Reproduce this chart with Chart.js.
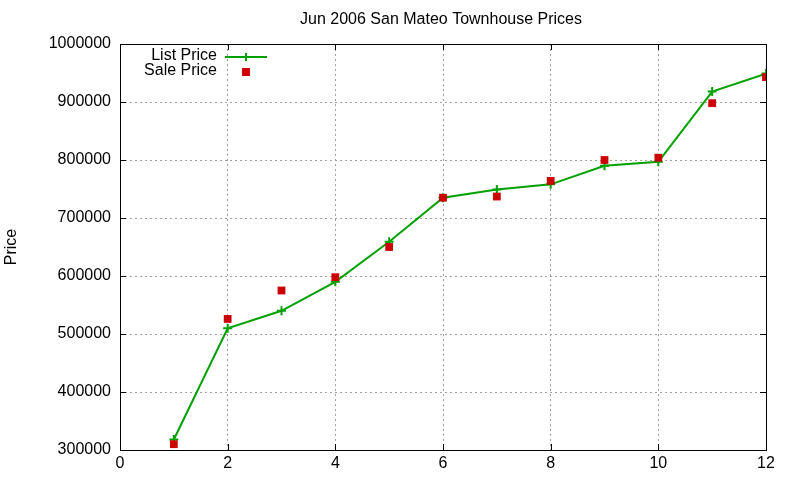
<!DOCTYPE html>
<html>
<head>
<meta charset="utf-8">
<script src="https://cdn.jsdelivr.net/npm/chart.js@4/dist/chart.umd.min.js"></script>
<style>
html,body{margin:0;padding:0;background:#fff;}
#wrap{width:800px;height:480px;position:relative;}
</style>
</head>
<body>
<div id="wrap"><canvas id="c" width="800" height="480"></canvas></div>
<script>
const titleText = "Jun 2006 San Mateo Townhouse Prices";
const yAxisTitle = "Price";
const xValues = [1, 2, 3, 4, 5, 6, 7, 8, 9, 10, 11, 12];
const listPrice = [318000, 510000, 540000, 590000, 659000, 735000, 749000, 758000, 790000, 797000, 918000, 949000];
const salePrice = [310000, 526000, 575000, 598000, 650000, 735000, 737000, 764000, 800000, 804000, 898000, 943000];
const seriesNames = ["List Price", "Sale Price"];
const xTicks = [0, 2, 4, 6, 8, 10, 12];
const yTicks = [300000, 400000, 500000, 600000, 700000, 800000, 900000, 1000000];

const FONT = "'Liberation Sans', Arial, sans-serif";
const GREEN = "#00a000";
const RED = "#cc0000";

const gnuplotDecor = {
  id: 'gnuplotDecor',
  afterDraw(chart) {
    const ctx = chart.ctx;
    const a = chart.chartArea;
    const xs = chart.scales.x, ys = chart.scales.y;
    ctx.save();
    // border
    ctx.strokeStyle = '#000';
    ctx.lineWidth = 1;
    ctx.strokeRect(Math.round(a.left) + 0.5, Math.round(a.top) + 0.5, Math.round(a.right - a.left), Math.round(a.bottom - a.top));
    // inward ticks
    ctx.beginPath();
    xTicks.forEach(v => {
      const px = Math.round(xs.getPixelForValue(v)) + 0.5;
      ctx.moveTo(px, a.bottom); ctx.lineTo(px, a.bottom - 6);
      ctx.moveTo(px, a.top); ctx.lineTo(px, a.top + 6);
    });
    yTicks.forEach(v => {
      const py = Math.round(ys.getPixelForValue(v)) + 0.5;
      ctx.moveTo(a.left, py); ctx.lineTo(a.left + 6, py);
      ctx.moveTo(a.right, py); ctx.lineTo(a.right - 6, py);
    });
    ctx.stroke();
    // title
    ctx.fillStyle = '#000';
    ctx.font = "16px " + FONT;
    ctx.textAlign = 'center';
    ctx.textBaseline = 'middle';
    ctx.fillText(titleText, 441, 20);
    // y axis title
    ctx.save();
    ctx.translate(12, 247);
    ctx.rotate(-Math.PI / 2);
    ctx.font = "16px " + FONT;
    ctx.fillText(yAxisTitle, 0, 0);
    ctx.restore();
    // legend
    ctx.font = "16px " + FONT;
    ctx.textAlign = 'right';
    ctx.fillText(seriesNames[0], 217, 56);
    ctx.fillText(seriesNames[1], 217, 71);
    ctx.strokeStyle = GREEN;
    ctx.lineWidth = 2;
    ctx.beginPath();
    ctx.moveTo(225, 57); ctx.lineTo(267, 57);
    ctx.moveTo(246, 53); ctx.lineTo(246, 61);
    ctx.stroke();
    ctx.fillStyle = RED;
    ctx.fillRect(242, 68, 8, 8);
    ctx.restore();
  }
};

new Chart(document.getElementById('c'), {
  type: 'scatter',
  data: {
    datasets: [
      {
        label: seriesNames[0],
        data: xValues.map((x, i) => ({x: x, y: listPrice[i]})),
        showLine: true,
        borderColor: GREEN,
        backgroundColor: GREEN,
        borderWidth: 2,
        pointStyle: 'cross',
        pointRadius: 4.5,
        pointBorderWidth: 2,
        pointBorderColor: GREEN,
        tension: 0,
        order: 2
      },
      {
        label: seriesNames[1],
        data: xValues.map((x, i) => ({x: x, y: salePrice[i]})),
        showLine: false,
        pointStyle: 'rect',
        pointRadius: 5.5,
        pointBorderWidth: 0,
        backgroundColor: RED,
        borderColor: RED,
        order: 1
      }
    ]
  },
  options: {
    responsive: false,
    animation: false,
    devicePixelRatio: 1,
    layout: { padding: { top: 44, right: 34, left: 0, bottom: 0 } },
    plugins: {
      legend: { display: false },
      title: { display: false },
      tooltip: { enabled: false }
    },
    scales: {
      x: {
        type: 'linear',
        min: 0, max: 12,
        afterBuildTicks: s => { s.ticks = xTicks.map(v => ({value: v})); },
        afterFit: s => { s.height = 30; },
        grid: { color: '#a0a0a0', lineWidth: 1, drawTicks: false },
        border: { display: false, dash: [2, 3] },
        ticks: { color: '#000', font: { family: FONT, size: 16 }, padding: 4, maxRotation: 0 }
      },
      y: {
        type: 'linear',
        min: 300000, max: 1000000,
        afterBuildTicks: s => { s.ticks = yTicks.map(v => ({value: v})); },
        afterFit: s => { s.width = 120; },
        grid: { color: '#a0a0a0', lineWidth: 1, drawTicks: false },
        border: { display: false, dash: [2, 3] },
        ticks: { color: '#000', font: { family: FONT, size: 16 }, padding: 9, callback: v => String(v) }
      }
    }
  },
  plugins: [gnuplotDecor]
});
</script>
</body>
</html>
